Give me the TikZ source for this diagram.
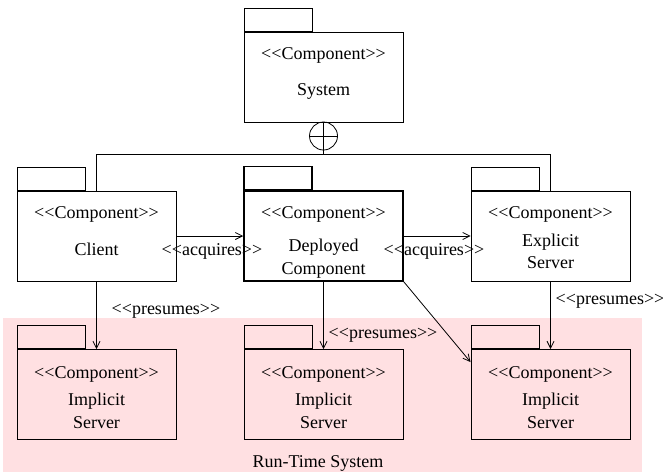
\documentclass[tikz,border=0pt]{standalone}
\usepackage{fontspec}
\setmainfont{Liberation Serif}
\usetikzlibrary{arrows.meta}
\definecolor{rtpink}{RGB}{255,224,226}
\newcommand{\stereo}[1]{<{}<#1>{}>}
\begin{document}
\begin{tikzpicture}[x=1pt,y=-1pt,
  box/.style={draw, line width=0.9pt, minimum width=159pt, minimum height=90pt, inner sep=0pt},
  tabbox/.style={draw, line width=0.9pt, minimum width=68pt, minimum height=23pt, inner sep=0pt, anchor=south west},
  txt/.style={font=\fontsize{18}{20}\selectfont, inner sep=0pt, anchor=base},
  conn/.style={line width=0.8pt},
  arr/.style={conn, -{Straight Barb[length=7pt,width=7pt]}},
]
\useasboundingbox (0,0) rectangle (663,474);
% run-time region
\node[fill=rtpink, inner sep=0pt, minimum width=639pt, minimum height=154pt, anchor=north west] (rt) at (3,318) {};
\node[txt] (rtlabel) at (318,467) {Run-Time System};

% boxes
\node[box] (system) at (323.5,77) {};
\node[box] (client) at (96.5,236) {};
\node[box, line width=1.5pt] (deployed) at (323.5,236) {};
\node[box] (explicit) at (550.5,236) {};
\node[box] (imp1) at (96.5,394.5) {};
\node[box] (imp2) at (323.5,394.5) {};
\node[box] (imp3) at (550.5,394.5) {};

% tabs
\node[tabbox] (systemtab) at (system.north west) {};
\node[tabbox] (clienttab) at (client.north west) {};
\node[tabbox, line width=1.5pt] (deployedtab) at (deployed.north west) {};
\node[tabbox] (explicittab) at (explicit.north west) {};
\node[tabbox] (imp1tab) at (imp1.north west) {};
\node[tabbox] (imp2tab) at (imp2.north west) {};
\node[tabbox] (imp3tab) at (imp3.north west) {};

% texts
\node[txt] (t1) at (323.5,59) {\stereo{Component}};
\node[txt] (t2) at (323.5,95) {System};
\node[txt] (t3) at (96.5,218) {\stereo{Component}};
\node[txt] (t4) at (96.5,255) {Client};
\node[txt] (t5) at (323.5,218) {\stereo{Component}};
\node[txt] (t6) at (323.5,251) {Deployed};
\node[txt] (t7) at (323.5,274) {Component};
\node[txt] (t8) at (550.5,218) {\stereo{Component}};
\node[txt] (t9) at (550.5,246) {Explicit};
\node[txt] (t10) at (550.5,268) {Server};
\foreach \x/\n in {96.5/a,323.5/b,550.5/c}{
  \node[txt] (ic\n) at (\x,378) {\stereo{Component}};
  \node[txt] (ii\n) at (\x,405) {Implicit};
  \node[txt] (is\n) at (\x,428) {Server};
}

% composition symbol
\node[draw, circle, line width=0.8pt, minimum size=28pt, inner sep=0pt] (oplus) at (323.5,136) {};
\coordinate (hub) at (323.5,154);
\draw[conn] (oplus.north) -- (hub);
\draw[conn] (oplus.west) -- (oplus.east);
\draw[conn] (client.north) |- (explicit.north |- hub) -- (explicit.north);

% acquires
\draw[arr] (client.east) -- (deployed.west);
\draw[arr] (deployed.east) -- (explicit.west);
\node[txt] (acq1) at (212,255) {\stereo{acquires}};
\node[txt] (acq2) at (434,255) {\stereo{acquires}};

% presumes
\draw[arr] (client.south) -- (imp1.north);
\draw[arr] (deployed.south) -- (imp2.north);
\draw[arr] (explicit.south) -- (imp3.north);
\draw[arr] (deployed.south east) -- ([yshift=-13pt]imp3.north west);
\node[txt] (pr1) at (166,314) {\stereo{presumes}};
\node[txt] (pr2) at (383,338) {\stereo{presumes}};
\node[txt] (pr3) at (610,304) {\stereo{presumes}};
\end{tikzpicture}
\end{document}
